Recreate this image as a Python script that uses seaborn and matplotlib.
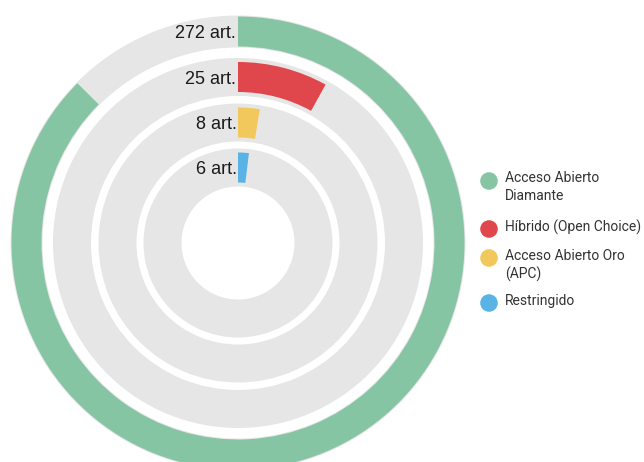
import matplotlib
import matplotlib.pyplot as plt
import numpy as np
import seaborn as sns

matplotlib.use("Agg")

# Data
categories = ["Acceso Abierto\nDiamante", "Híbrido (Open Choice)", "Acceso Abierto Oro\n(APC)", "Restringido"]
counts = [272, 25, 8, 6]
bar_labels = ["272 art.", "25 art.", "8 art.", "6 art."]
colors = ["#86c5a4", "#e0474d", "#f2c75c", "#59b3e4"]

sns.set_theme(style="white")
plt.rcParams["font.family"] = ["Liberation Sans", "DejaVu Sans"]

W, H = 644, 462
fig = plt.figure(figsize=(W / 100, H / 100), dpi=100)

# polar axes sized so one radial unit == one pixel
cx, cy, R = 238, 243, 232
ax = fig.add_axes([(cx - R) / W, (H - cy - R) / H, 2 * R / W, 2 * R / H], projection="polar")
ax.set_theta_zero_location("N")
ax.set_theta_direction(-1)
ax.set_ylim(0, R)
ax.set_axis_off()

total = sum(counts)
ring_mid = [211.5, 166, 120.5, 75.5]   # radial centre of each ring (px)
track_w = [32, 38, 38, 38]
bar_w = 30

for i, (n, col, lab) in enumerate(zip(counts, colors, bar_labels)):
    r = ring_mid[i]
    # grey background track
    ax.bar(0, track_w[i], width=2 * np.pi, bottom=r - track_w[i] / 2, align="edge",
           color="#e6e6e6", edgecolor="none")
    # value arc
    ax.bar(0, bar_w, width=n / total * 2 * np.pi, bottom=r - bar_w / 2, align="edge",
           color=col, edgecolor="none")
    ax.text(-0.012, r - 2, lab, ha="right", va="center", fontsize=13, color="#1a1a1a")

# legend drawn on an overlay in pixel coords
lg = fig.add_axes([0, 0, 1, 1])
lg.set_xlim(0, W)
lg.set_ylim(H, 0)
lg.set_axis_off()
lg.patch.set_alpha(0)
row_y = [180, 228, 257, 302]
for y, col, cat in zip(row_y, colors, categories):
    lg.scatter(489, y + 1, s=160, color=col, edgecolor="none")
    lg.text(505, y - 8.5, cat, ha="left", va="top", fontsize=10, color="#333333",
            family=["Roboto", "DejaVu Sans"], linespacing=1.35)

fig.savefig("out.png", dpi=100)
